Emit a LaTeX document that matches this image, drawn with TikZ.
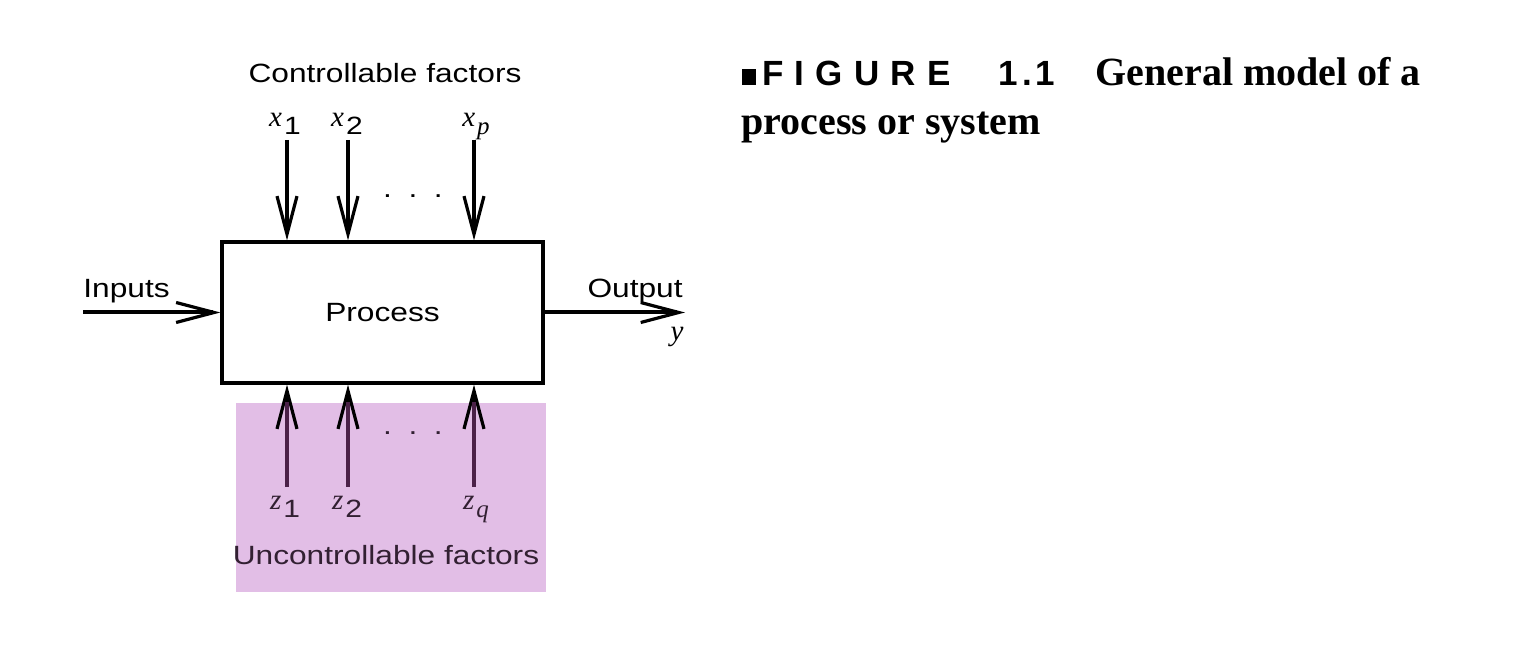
\documentclass[tikz,border=0pt]{standalone}
\usepackage{fontspec}
\setmainfont{Liberation Serif}
\newfontfamily\figsans{Liberation Sans}[FakeStretch=1.2]
\newfontfamily\fighead{Liberation Sans}
\newfontfamily\figvar{Liberation Serif}
\usetikzlibrary{arrows.meta}
\definecolor{fig11pink}{RGB}{226,190,230}
\definecolor{fig11plum}{RGB}{75,33,72}
\definecolor{fig11ink}{RGB}{50,32,50}
\newcommand{\fsub}[1]{\hspace{1pt}\raisebox{-4pt}{\figsans\upshape\fontsize{12.5}{14}\selectfont #1}}
\newcommand{\fsubi}[1]{\hspace{1pt}\raisebox{-4pt}{\fontsize{12.5}{14}\selectfont #1}}
\begin{document}
\begin{tikzpicture}[
  x=50pt, y=-50pt,
  fig11box/.style = {draw, line width=1.6pt, minimum width=160.5pt, minimum height=70.5pt,
    inner sep=0pt, font=\figsans\fontsize{13.2}{15}\selectfont},
  fig11tip/.tip = {Straight Barb[length=19pt, width=10pt, line width=1.6pt]},
  fig11arr/.style = {line width=2pt, -fig11tip},
  fig11lbl/.style = {inner sep=0pt, font=\figsans\fontsize{13.2}{15}\selectfont},
  fig11var/.style = {inner sep=0pt, anchor=base, font=\figvar\itshape\fontsize{14.5}{16}\selectfont},
  fig11cap/.style = {inner sep=0pt, anchor=base west, font=\bfseries\fontsize{20}{24}\selectfont}
]
  \useasboundingbox (0,0) rectangle (15.38,6.62);
  % shaded area
  \fill[fig11pink] (2.36,4.03) rectangle (5.46,5.92);
  % process
  \node[fig11box] (proc) at (3.825,3.125) {Process};
  % controllable factors
  \node[fig11lbl, anchor=base] (ctrl) at (3.85,0.83) {Controllable factors};
  \foreach \id/\px in {1/2.87, 2/3.48, p/4.74} {
    \coordinate (xs\id) at (\px,1.40);
    \draw[fig11arr] (xs\id) -- (xs\id |- proc.north);
  }
  \node[fig11var] (x1) at (2.85,1.27) {x\fsub{1}};
  \node[fig11var] (x2) at (3.47,1.27) {x\fsub{2}};
  \node[fig11var] (xp) at (4.76,1.27) {x\fsubi{p}};
  \node[fig11lbl, anchor=base] (xdots) at (4.13,1.98) {.\hspace{8.3pt}.\hspace{8.3pt}.};
  % input and output
  \coordinate (inst) at (0.83,3.125);
  \coordinate (outend) at (6.85,3.125);
  \draw[fig11arr] (inst) -- (proc.west);
  \draw[fig11arr] (proc.east) -- (outend);
  \node[fig11lbl, anchor=base west] (inlbl) at (0.83,2.98) {Inputs};
  \node[fig11lbl, anchor=base east] (outlbl) at (6.83,2.98) {Output};
  \node[fig11var, anchor=base east] (ylbl) at (6.84,3.41) {y};
  % uncontrollable factors
  \foreach \id/\px in {1/2.87, 2/3.48, q/4.74} {
    \coordinate (zs\id) at (\px,4.87);
    \draw[fig11arr] (zs\id) -- (zs\id |- proc.south);
  }
  \begin{scope}
    \clip (2.36,4.03) rectangle (5.46,5.92);
    \foreach \id in {1,2,q}
      \draw[line width=2pt, fig11plum] (zs\id) -- ([yshift=-3pt]zs\id |- proc.south);
  \end{scope}
  \node[fig11var, text=fig11ink] (z1) at (2.85,5.10) {z\fsub{1}};
  \node[fig11var, text=fig11ink] (z2) at (3.47,5.10) {z\fsub{2}};
  \node[fig11var, text=fig11ink] (zq) at (4.76,5.10) {z\fsubi{q}};
  \node[fig11lbl, anchor=base, text=fig11ink] (zdots) at (4.13,4.35) {.\hspace{8.3pt}.\hspace{8.3pt}.};
  \node[fig11lbl, anchor=base, text=fig11ink] (unctrl) at (3.86,5.65) {Uncontrollable factors};
  % caption
  \node[inner sep=0pt, anchor=base west, font=\fighead\bfseries\fontsize{17.5}{20}\selectfont] (fignum) at (7.42,0.86)
    {\rule[0.5pt]{7pt}{8pt}\hspace{3pt}F\hspace{5.6pt}I\hspace{5.6pt}G\hspace{5.6pt}U\hspace{5.6pt}R\hspace{5.6pt}E\hspace{24pt}1\hspace{2pt}.\hspace{2pt}1};
  \node[fig11cap] (figttl) at (10.95,0.86) {General model of a};
  \node[fig11cap] (figttl2) at (7.41,1.35) {process or system};
\end{tikzpicture}
\end{document}
